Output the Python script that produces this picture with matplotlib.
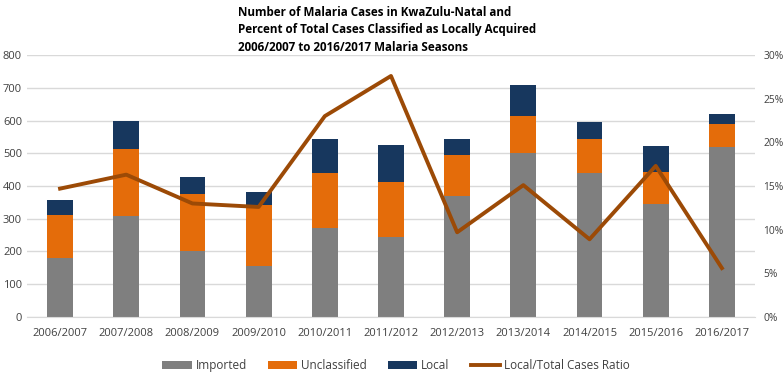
import numpy as np
import matplotlib
matplotlib.use("Agg")
import matplotlib.pyplot as plt
from matplotlib.ticker import PercentFormatter

plt.rcParams["font.family"] = ["Open Sans", "DejaVu Sans"]

# Season labels
seasons = ["2006/2007", "2007/2008", "2008/2009", "2009/2010", "2010/2011", "2011/2012",
           "2012/2013", "2013/2014", "2014/2015", "2015/2016", "2016/2017"]

# Case counts
imported = [180, 309, 201, 157, 273, 245, 370, 500, 441, 345, 519]
unclassified = [132, 204, 175, 184, 167, 166, 125, 115, 104, 99, 69]
local = [45, 86, 50, 42, 103, 114, 49, 93, 50, 77, 33]

# Local / total ratio in percent
ratio = [14.7, 16.3, 13.0, 12.6, 23.0, 27.6, 9.7, 15.1, 8.9, 17.3, 5.6]

x = np.arange(len(seasons))
imported = np.array(imported)
unclassified = np.array(unclassified)
local = np.array(local)

fig = plt.figure(figsize=(7.84, 3.75), dpi=100)
ax = fig.add_axes([0.0344, 0.1547, 0.9286, 0.6986])

w = 0.39
ax.bar(x, imported, w, color="#7F7F7F", label="Imported", zorder=2)
ax.bar(x, unclassified, w, bottom=imported, color="#E46C0A", label="Unclassified", zorder=2)
ax.bar(x, local, w, bottom=imported + unclassified, color="#17375E", label="Local", zorder=2)

ax.set_ylim(0, 800)
ax.set_yticks(range(0, 801, 100))
ax.set_xlim(-0.5, len(seasons) - 0.5)
ax.set_xticks(x)
ax.set_xticklabels(seasons)
ax.yaxis.grid(True, color="#D9D9D9", linewidth=1, zorder=0)
ax.set_axisbelow(True)
for s in ["top", "right", "left"]:
    ax.spines[s].set_visible(False)
ax.spines["bottom"].set_color("#D9D9D9")
ax.tick_params(length=0, labelsize=8, colors="#404040")
ax.tick_params(axis="x", pad=8)

ax2 = ax.twinx()
ax2.plot(x, ratio, color="#9C4A06", linewidth=2.8, label="Local/Total Cases Ratio", zorder=3)
ax2.set_ylim(0, 30)
ax2.set_yticks(range(0, 31, 5))
ax2.yaxis.set_major_formatter(PercentFormatter(decimals=0))
for s in ["top", "right", "left", "bottom"]:
    ax2.spines[s].set_visible(False)
ax2.tick_params(length=0, labelsize=7.4, colors="#404040", pad=6)

fig.text(0.3036, 0.985, "Number of Malaria Cases in KwaZulu-Natal and\n"
         "Percent of Total Cases Classified as Locally Acquired\n"
         "2006/2007 to 2016/2017 Malaria Seasons",
         ha="left", va="top", fontsize=8.4, fontweight="bold", linespacing=1.45)

h1, l1 = ax.get_legend_handles_labels()
h2, l2 = ax2.get_legend_handles_labels()
fig.legend(h1 + h2, l1 + l2, loc="center", bbox_to_anchor=(0.505, 0.025), ncol=4,
           frameon=False, fontsize=8.5, handlelength=2.5, columnspacing=1.8,
           handletextpad=0.3, labelcolor="#404040")

fig.savefig("out.png", dpi=100)
